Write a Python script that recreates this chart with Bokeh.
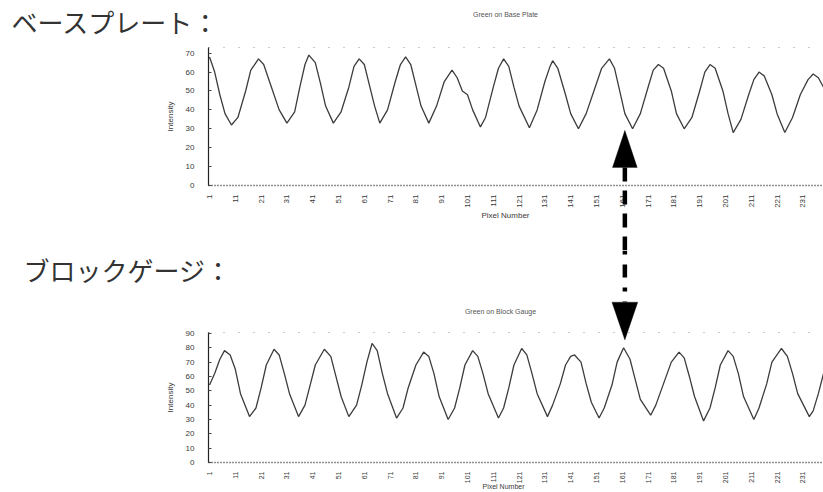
import math
from bokeh.plotting import figure
from bokeh.layouts import column
from bokeh.models import (Range1d, FixedTicker, Label, Arrow, PolyAnnotation,
                          LinearAxis)
from bokeh.embed import file_html
from bokeh.resources import INLINE

# ---------------- data ----------------
top_title = "Green on Base Plate"
bottom_title = "Green on Block Gauge"
top_jp = "ベースプレート："
bottom_jp = "ブロックゲージ："
x_label = "Pixel Number"
y_label = "Intensity"

x_ticks = [1, 11, 21, 31, 41, 51, 61, 71, 81, 91, 101, 111, 121, 131,
           141, 151, 161, 171, 181, 191, 201, 211, 221, 231]
top_y_ticks = [0, 10, 20, 30, 40, 50, 60, 70]
bottom_y_ticks = [0, 10, 20, 30, 40, 50, 60, 70, 80, 90]

base_x = [1, 3, 5, 7, 9.5, 12, 15, 17, 20, 22, 25, 28, 31, 34, 36, 38, 39.5,
          42, 44, 46, 49, 52, 55, 57, 59, 61, 63, 65, 67, 70, 73, 75, 77, 79,
          81, 83, 86, 89, 92, 95, 97, 99, 101, 103, 106, 108, 111, 113, 115,
          117, 119, 121, 125, 128, 131, 133, 134, 136, 139, 141, 144, 147, 150,
          153, 156, 158, 160, 162, 165, 168, 171, 173, 175, 177, 180, 182, 185,
          188, 191, 193, 195, 197, 200, 202, 204, 207, 210, 212, 214, 216, 219,
          221, 224, 227, 230, 233, 235, 237, 239]
base_y = [68, 60, 48, 38, 32, 36, 50, 61, 67, 64, 52, 40, 33, 39, 52, 64, 69,
          65, 54, 42, 33, 39, 52, 63, 67, 64, 53, 42, 33, 40, 55, 64, 68, 64,
          53, 42, 33, 42, 55, 61, 57, 50, 48, 40, 31, 36, 52, 62, 67,
          63, 52, 42, 30.5, 40, 55, 63, 66, 62, 48, 38, 30, 38, 50,
          62, 67, 62, 50, 38, 30, 38, 52, 61, 64, 62, 50, 38, 30,
          36, 50, 60, 64, 62, 50, 38, 28, 35, 48, 56, 60, 58, 48,
          38, 28, 36, 48, 56, 59, 57, 52]

gauge_x = [1, 3, 5, 6.8, 9, 11, 13, 16.5, 19, 21, 23, 26, 28, 30, 32, 35.5,
           38, 40, 42, 45.5, 48, 50, 52, 55, 58, 60, 62, 64, 66, 68, 70, 73.5,
           76, 78, 81, 84, 86, 88, 90, 93.5, 96, 98, 100, 103, 105, 107, 109,
           113, 115, 117, 119, 122, 124, 126, 128, 132, 134, 137, 139, 141,
           142.5, 145, 147, 149, 152, 154, 157, 159, 161.5, 164, 166, 168, 172,
           174, 177, 180, 183, 185, 187, 189, 192.5, 195, 197, 199, 202, 204,
           206, 208, 212, 214, 217, 219, 222.7, 225, 227, 229, 233.5, 235, 237,
           239]
gauge_y = [54, 62, 72, 78, 75, 65, 48, 32, 38, 52, 68, 79, 75, 62, 48, 32,
           40, 54, 68, 79, 74, 60, 46, 32, 40, 54, 70, 83, 78, 62, 48, 31,
           38, 52, 68, 77, 74, 62, 46, 30, 38, 52, 68, 78, 74, 62, 48,
           31, 38, 52, 68, 79.5, 75, 62, 48, 32, 40, 55, 68, 74,
           75, 70, 55, 42, 31, 38, 54, 70, 80, 72, 58, 44, 33,
           40, 55, 70, 77, 73, 60, 46, 29, 38, 52, 68, 78, 74,
           62, 46, 30, 38, 55, 70, 79.5, 74, 62, 48, 32, 36, 48,
           62]

ARROW_X = 162

FONT = "Liberation Sans"
JP_FONT = "Noto Sans CJK JP"
TXT = "#3a3a3a"
LINE = "#3c3c3c"

W = 823
X0, X1 = 0.6, 239.0          # data extent of each chart
PLOT_LEFT = 208              # pixel where the y axis sits
XSCALE = (W - PLOT_LEFT) / (X1 - X0)
X_START = X0 - PLOT_LEFT / XSCALE


def make_chart(height, axis_px, top_px, ymax, yticks, xfont):
    """Figure whose frame fills the canvas; axes pinned with fixed_location."""
    yscale = (axis_px - top_px) / ymax
    y_start = -(height - axis_px) / yscale
    y_end = axis_px / yscale
    p = figure(width=W, height=height, output_backend="svg",
               toolbar_location=None,
               x_range=Range1d(X_START, X1), y_range=Range1d(y_start, y_end),
               min_border=0, min_border_left=0, min_border_right=0,
               min_border_top=0, min_border_bottom=0)
    p.xgrid.visible = False
    p.ygrid.visible = False
    p.outline_line_color = None
    p.background_fill_color = "white"
    p.border_fill_color = "white"

    xa = p.xaxis[0]
    ya = p.yaxis[0]
    xa.fixed_location = 0
    ya.fixed_location = X0
    xa.bounds = (X0, X1)
    ya.bounds = (0, ymax)
    xa.ticker = FixedTicker(ticks=x_ticks)
    ya.ticker = FixedTicker(ticks=yticks)
    for ax in (xa, ya):
        ax.major_label_text_font = FONT
        ax.major_label_text_font_size = "8px"
        ax.major_label_text_color = TXT
        ax.axis_label_text_font = FONT
        ax.axis_label_text_font_size = "8px"
        ax.axis_label_text_font_style = "normal"
        ax.axis_label_text_color = TXT
        ax.minor_tick_line_color = None
    xa.axis_line_dash = "1 2"
    xa.axis_line_width = 1.5
    xa.axis_line_color = "#222"
    xa.major_tick_line_color = None
    xa.major_label_orientation = math.pi / 2
    xa.major_label_standoff = 3
    xa.major_label_text_font_size = xfont
    ya.axis_label = y_label
    ya.axis_line_color = "#222"
    ya.axis_line_width = 1.2
    ya.major_tick_in = 3
    ya.major_tick_out = 0
    ya.major_tick_line_color = "#444"
    ya.major_label_standoff = 14
    ya.axis_label_standoff = 8

    # faint dotted frame top
    topax = LinearAxis(fixed_location=ymax, bounds=(X0, X1),
                       major_tick_line_color=None, minor_tick_line_color=None,
                       major_label_text_font_size="0px",
                       axis_line_color="#999", axis_line_dash="1 14")
    topax.ticker = FixedTicker(ticks=[])
    p.add_layout(topax, "above")
    return p


def add_label(p, height, x_px, y_px, text, font, size, color, align):
    p.add_layout(Label(x=x_px, y=height - y_px, x_units="screen",
                       y_units="screen", text=text, text_font=font,
                       text_font_size=size, text_color=color,
                       text_align=align, text_baseline="middle"))


# ---------------- top chart (canvas rows 0..250) ----------------
H1 = 250
top = make_chart(H1, axis_px=185, top_px=47, ymax=73, yticks=top_y_ticks,
                 xfont="8px")
top.line(base_x, base_y, line_color=LINE, line_width=1.3)
add_label(top, H1, 505, 14, top_title, FONT, "7px", "#555", "center")
add_label(top, H1, 11, 21, top_jp, JP_FONT, "26px", "#333", "left")
add_label(top, H1, 505, 215, x_label, FONT, "8px", TXT, "center")

# up arrow head + upper part of dashed shaft
top_head_base, top_head_tip, top_half_w = 9.5, 29.2, 4.8
top.add_layout(PolyAnnotation(xs=[ARROW_X - top_half_w, ARROW_X,
                                  ARROW_X + top_half_w],
                              ys=[top_head_base, top_head_tip, top_head_base],
                              fill_color="black", fill_alpha=1,
                              line_color="black"))
top.add_layout(Arrow(x_start=ARROW_X, y_start=top_head_base, x_end=ARROW_X,
                     y_end=top.y_range.start, end=None, line_color="black",
                     line_width=4.5, line_dash="14 9"))

# ---------------- bottom chart (canvas rows 250..492) ----------------
H2 = 242
bot = make_chart(H2, axis_px=212, top_px=81.5, ymax=91, yticks=bottom_y_ticks,
                 xfont="7px")
bot.line(gauge_x, gauge_y, line_color=LINE, line_width=1.3)
add_label(bot, H2, 500, 61, bottom_title, FONT, "7px", "#555", "center")
add_label(bot, H2, 23, 19, bottom_jp, JP_FONT, "26px", "#333", "left")
add_label(bot, H2, 503, 236, x_label, FONT, "7px", TXT, "center")

bot_head_base, bot_head_tip, bot_half_w = 111.8, 85.4, 5.0
bot.add_layout(Arrow(x_start=ARROW_X, y_start=bot.y_range.end, x_end=ARROW_X,
                     y_end=bot_head_base, end=None, line_color="black",
                     line_width=4.5, line_dash="4 10 13 10"))
bot.add_layout(PolyAnnotation(xs=[ARROW_X - bot_half_w, ARROW_X,
                                  ARROW_X + bot_half_w],
                              ys=[bot_head_base, bot_head_tip, bot_head_base],
                              fill_color="black", fill_alpha=1,
                              line_color="black"))

layout = column(top, bot, spacing=0)
open("out.html", "w").write(file_html(layout, INLINE))
